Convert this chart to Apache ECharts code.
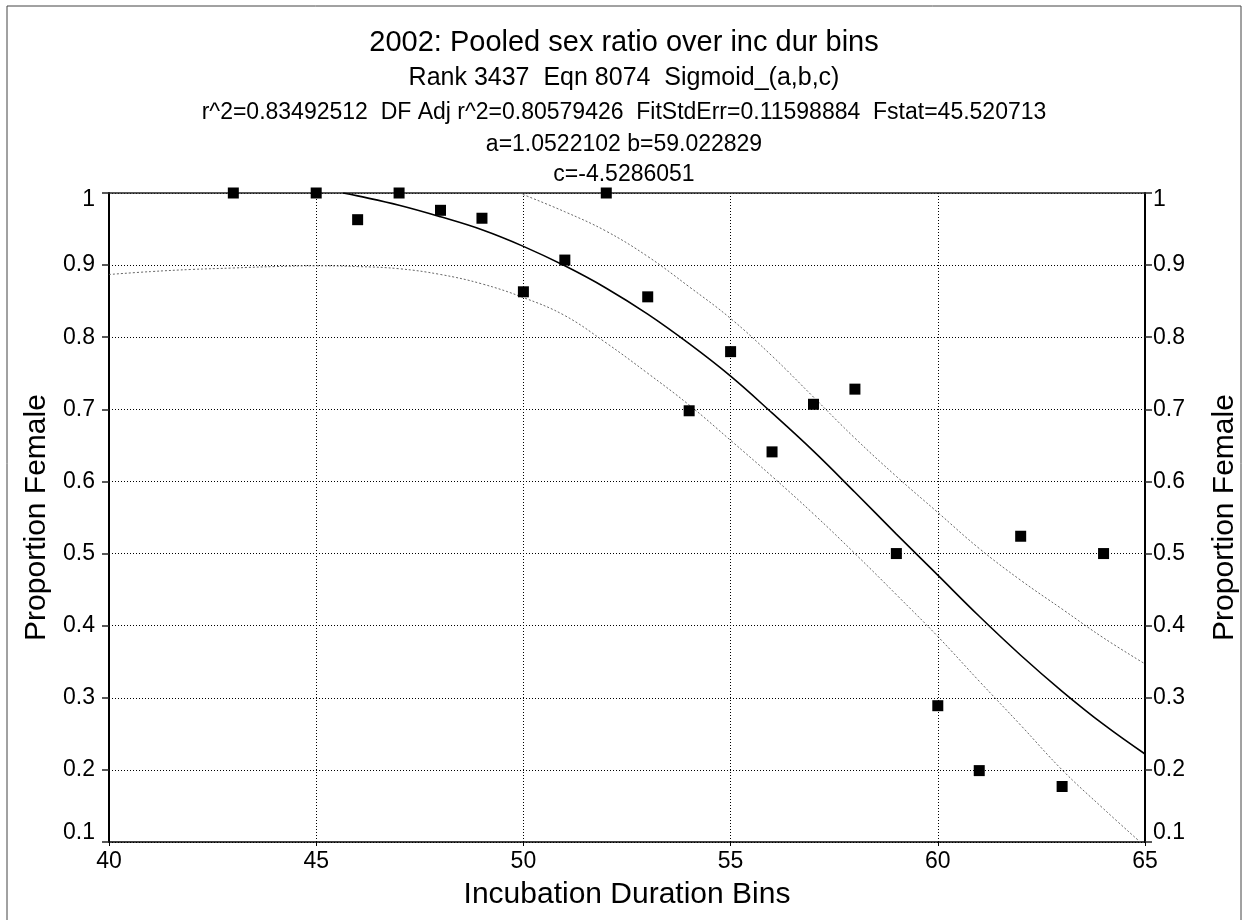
<!DOCTYPE html>
<html>
<head>
<meta charset="utf-8">
<script src="https://cdn.jsdelivr.net/npm/echarts@6/dist/echarts.min.js"></script>
<style>
html,body{margin:0;padding:0;background:#fff;}
#chart{width:1248px;height:920px;}
</style>
</head>
<body>
<div id="chart"></div>
<script>
// ---- data ----
var titleLines = [
  '2002: Pooled sex ratio over inc dur bins',
  'Rank 3437  Eqn 8074  Sigmoid_(a,b,c)',
  'r^2=0.83492512  DF Adj r^2=0.80579426  FitStdErr=0.11598884  Fstat=45.520713',
  'a=1.0522102 b=59.022829',
  'c=-4.5286051'
];
var xName = 'Incubation Duration Bins';
var yName = 'Proportion Female';

// observed points
var binX = [43, 45, 46, 47, 48, 49, 50, 51, 52, 53, 54, 55, 56, 57, 58, 59, 60, 61, 62, 63, 64];
var propFemale = [1.0, 1.0, 0.963, 1.0, 0.976, 0.965, 0.863, 0.907, 1.0, 0.856, 0.698, 0.780, 0.641, 0.707, 0.728, 0.5, 0.289, 0.199, 0.524, 0.177, 0.5];

// fitted sigmoid curve
var fitX = [45.65, 46, 47, 48, 49, 50, 51, 52, 53, 54, 55, 56, 57, 58, 59, 60, 61, 62, 63, 64, 65];
var fitY = [1.0, 0.996, 0.983, 0.967, 0.949, 0.926, 0.899, 0.868, 0.832, 0.791, 0.746, 0.695, 0.642, 0.585, 0.527, 0.470, 0.413, 0.359, 0.309, 0.263, 0.222];

// upper confidence band
var upX = [49.9, 51, 52, 53, 54, 55, 56, 57, 58, 59, 60, 61, 62, 63, 64, 65];
var upY = [1.0, 0.974, 0.947, 0.912, 0.870, 0.826, 0.774, 0.717, 0.660, 0.607, 0.557, 0.507, 0.463, 0.423, 0.383, 0.347];

// lower confidence band
var lowX = [40, 41, 42, 43, 44, 45, 46, 47, 48, 49, 50, 51, 52, 53, 54, 55, 56, 57, 58, 59, 60, 61, 62, 63, 64, 65];
var lowY = [0.887, 0.891, 0.894, 0.896, 0.898, 0.899, 0.898, 0.895, 0.887, 0.874, 0.855, 0.830, 0.792, 0.750, 0.706, 0.657, 0.607, 0.555, 0.500, 0.443, 0.385, 0.323, 0.262, 0.200, 0.146, 0.094];

// ---- build chart ----
function pairs(xs, ys) { return xs.map(function (x, i) { return [x, ys[i]]; }); }

var FONT = '"Liberation Sans", Arial, sans-serif';
var chart = echarts.init(document.getElementById('chart'), null, { renderer: 'canvas' });

function yLabel(v) {
  var r = Math.round(v * 10) / 10;
  var s = String(r);
  if (r >= 1) return '{t|' + s + '}';
  if (r <= 0.1) return '{b|' + s + '}';
  return '{m|' + s + '}';
}
var yRich = {
  t: { fontSize: 23, fontFamily: FONT, color: '#000', padding: [14, 0, 0, 0] },
  b: { fontSize: 23, fontFamily: FONT, color: '#000', padding: [0, 0, 18, 0] },
  m: { fontSize: 23, fontFamily: FONT, color: '#000' }
};

var titleCenters = [41, 76, 109.5, 142, 172];
var titleSizes = [29, 25, 23, 23, 23];
var titles = titleLines.map(function (t, i) {
  return {
    text: t, left: 'center', top: titleCenters[i] - titleSizes[i] * 0.6,
    textStyle: { fontFamily: FONT, fontSize: titleSizes[i], fontWeight: 'normal', color: '#000' }
  };
});

var option = {
  backgroundColor: '#fff',
  animation: false,
  title: titles,
  grid: { left: 109, right: 98, top: 193, bottom: 78, containLabel: false },
  xAxis: [{
    type: 'value', min: 40, max: 65, interval: 5, position: 'bottom',
    name: xName, nameLocation: 'middle', nameGap: 38,
    nameTextStyle: { fontFamily: FONT, fontSize: 30, color: '#000' },
    axisLine: { show: true, onZero: false, lineStyle: { color: '#000', width: 1.5 } },
    axisTick: { show: true, inside: false, length: 4, lineStyle: { color: '#000', width: 1 } },
    axisLabel: { fontFamily: FONT, fontSize: 23, color: '#000', margin: 8 },
    splitLine: { show: true, lineStyle: { color: '#000', width: 1, type: [1, 2] } }
  }, {
    type: 'value', min: 40, max: 65, interval: 5, position: 'top',
    axisLine: { show: true, onZero: false, lineStyle: { color: '#222', width: 1.5 } },
    axisTick: { show: false }, axisLabel: { show: false }, splitLine: { show: false }
  }],
  yAxis: [{
    type: 'value', min: 0.1, max: 1, interval: 0.1, position: 'left',
    name: yName, nameLocation: 'middle', nameGap: 51, nameRotate: 90,
    nameTextStyle: { fontFamily: FONT, fontSize: 30, color: '#000' },
    axisLine: { show: true, onZero: false, lineStyle: { color: '#000', width: 2 } },
    axisTick: { show: true, inside: false, length: 7, lineStyle: { color: '#222', width: 1.5 } },
    axisLabel: { formatter: yLabel, rich: yRich, margin: 14 },
    splitLine: { show: true, lineStyle: { color: '#000', width: 1, type: [1, 2] } }
  }, {
    type: 'value', min: 0.1, max: 1, interval: 0.1, position: 'right',
    name: yName, nameLocation: 'middle', nameGap: 65, nameRotate: 90,
    nameTextStyle: { fontFamily: FONT, fontSize: 30, color: '#000' },
    axisLine: { show: true, onZero: false, lineStyle: { color: '#000', width: 2 } },
    axisTick: { show: true, inside: false, length: 7, lineStyle: { color: '#222', width: 1.5 } },
    axisLabel: { formatter: yLabel, rich: yRich, margin: 8 },
    splitLine: { show: false }
  }],
  graphic: [{
    type: 'rect', silent: true, z: -1,
    shape: { x: 7, y: 6, width: 1234, height: 1000 },
    style: { fill: null, stroke: '#444', lineWidth: 1 }
  }],
  series: [{
    name: 'lower', type: 'line', showSymbol: false, smooth: 0.4, clip: true,
    data: pairs(lowX, lowY),
    lineStyle: { color: '#666', width: 1, type: [2, 2] }, z: 2
  }, {
    name: 'upper', type: 'line', showSymbol: false, smooth: 0.4, clip: true,
    data: pairs(upX, upY),
    lineStyle: { color: '#666', width: 1, type: [2, 2] }, z: 2
  }, {
    name: 'fit', type: 'line', showSymbol: false, smooth: 0.4, clip: true,
    data: pairs(fitX, fitY),
    lineStyle: { color: '#000', width: 1.6 }, z: 3
  }, {
    name: 'observed', type: 'scatter', symbol: 'rect', symbolSize: 11,
    data: pairs(binX, propFemale), clip: false,
    itemStyle: { color: '#000', opacity: 1 }, z: 4
  }]
};
chart.setOption(option);
</script>
</body>
</html>
